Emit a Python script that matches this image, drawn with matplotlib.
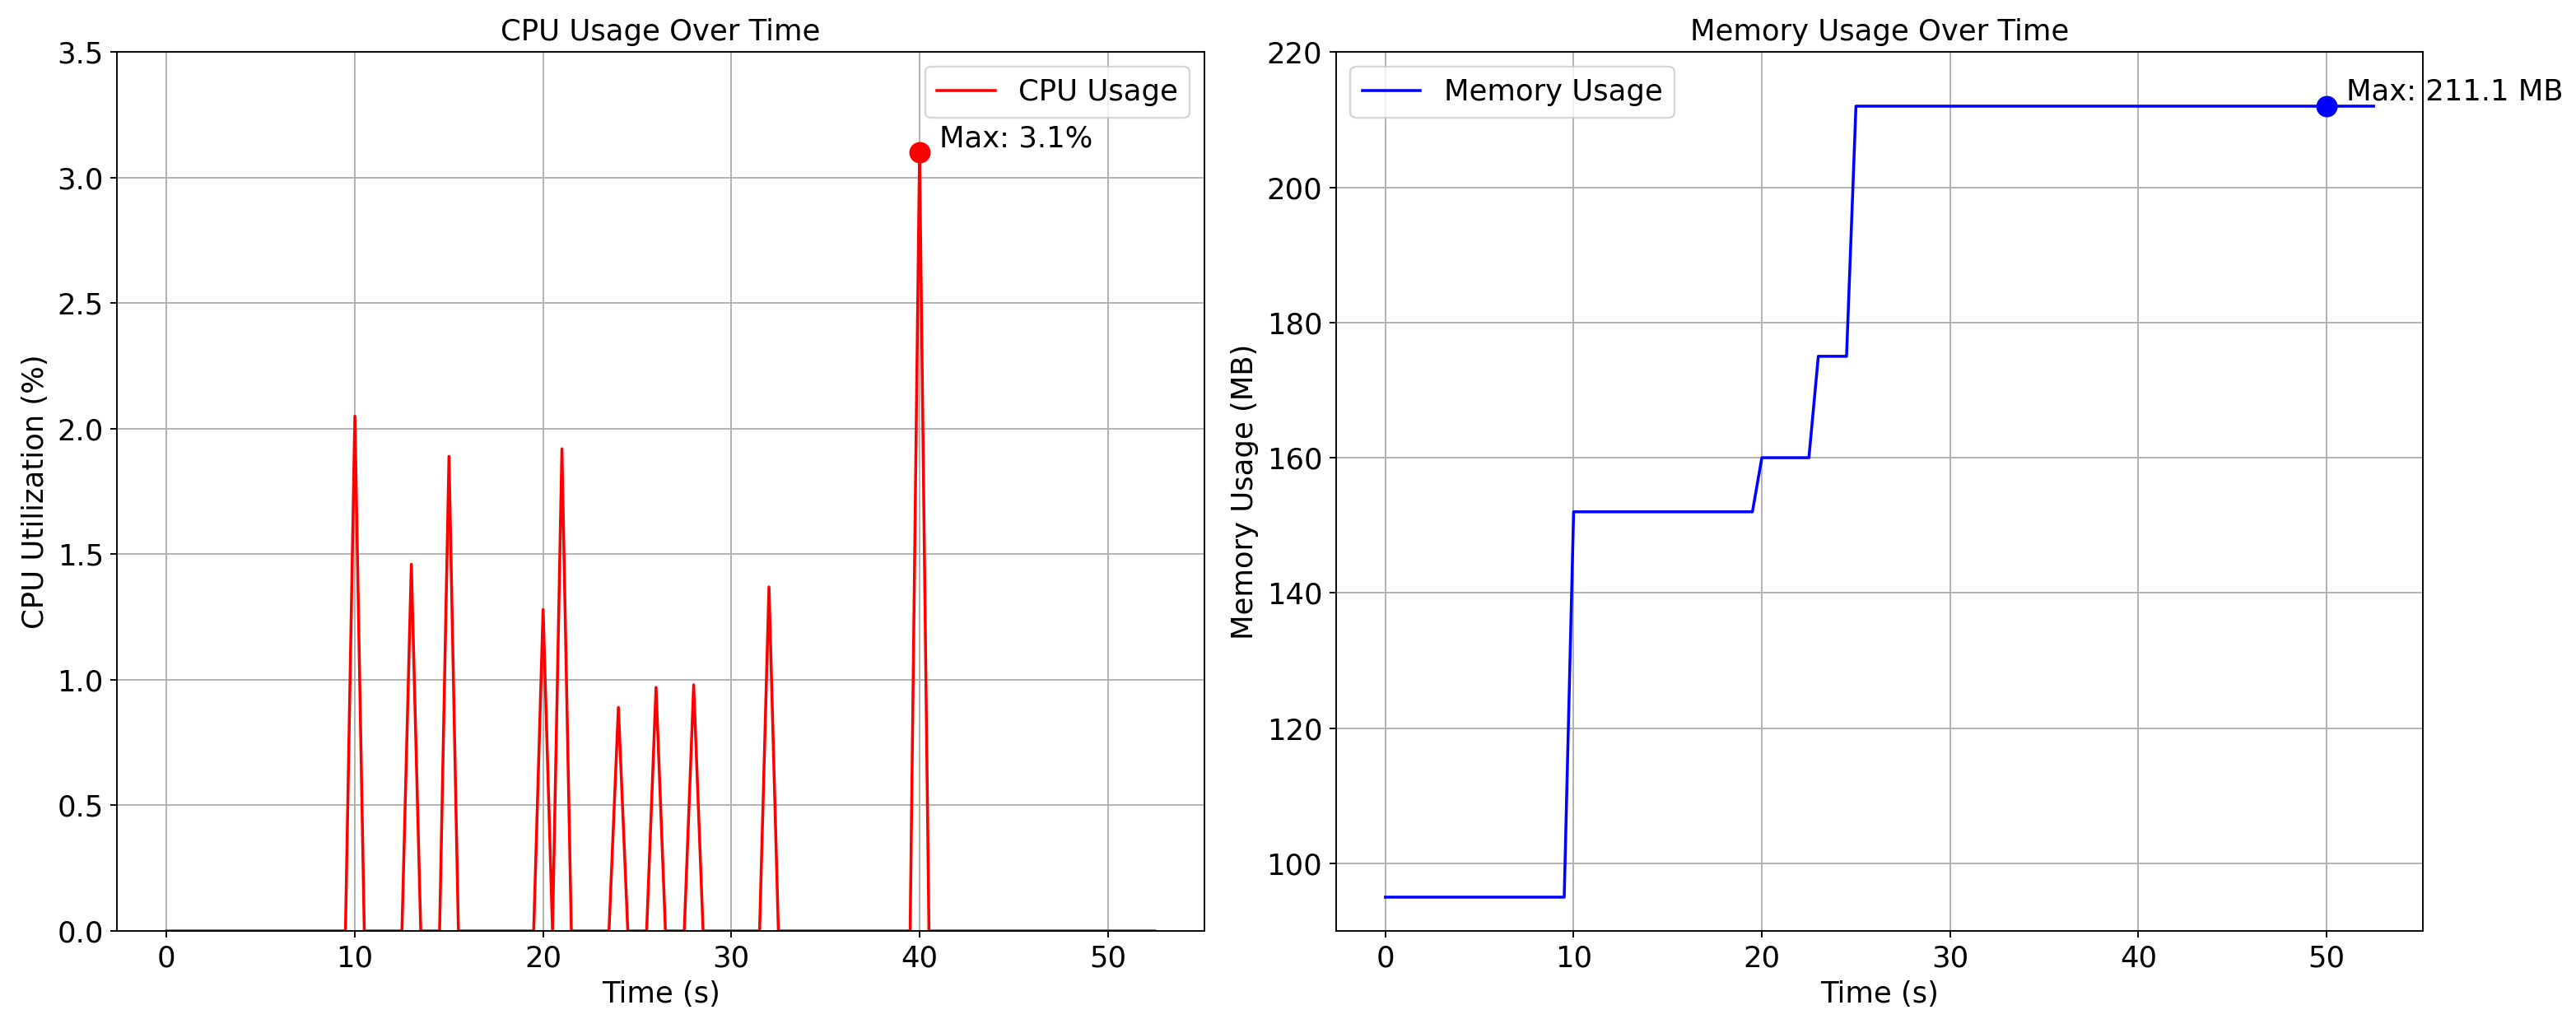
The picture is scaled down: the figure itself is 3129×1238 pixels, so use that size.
import matplotlib
matplotlib.use("Agg")
import matplotlib.pyplot as plt
import numpy as np

# sample times (s), every half second
time_s = np.arange(0, 53, 0.5)

# cpu spikes (time, percent), zero elsewhere
cpu_peak_times = [10, 13, 15, 20, 21, 24, 26, 28, 32, 40]
cpu_peak_values = [2.05, 1.46, 1.89, 1.28, 1.92, 0.89, 0.97, 0.98, 1.37, 3.1]

# memory steps (MB) and how many samples each lasts
mem_levels = [95.0, 152.0, 160.0, 175.0, 212.0]
mem_counts = [20, 20, 6, 4, 56]

cpu_max_time = 40
cpu_max_label = "Max: 3.1%"
mem_max_time = 50
mem_max_label = "Max: 211.1 MB"

cpu = np.zeros(len(time_s))
for t, v in zip(cpu_peak_times, cpu_peak_values):
    cpu[np.isclose(time_s, t)] = v
memory = np.repeat(mem_levels, mem_counts)

plt.rcParams["font.size"] = 15

fig, (ax1, ax2) = plt.subplots(1, 2, figsize=(3130 / 170, 1238 / 170), dpi=170)
fig.subplots_adjust(left=0.0455, right=0.9403, bottom=0.0864, top=0.9489, wspace=0.1212)

# cpu panel
ax1.plot(time_s, cpu, color="red", label="CPU Usage")
cpu_i = np.argmin(np.abs(time_s - cpu_max_time))
ax1.plot(time_s[cpu_i], cpu[cpu_i], "o", color="red", markersize=10)
ax1.annotate(cpu_max_label, (time_s[cpu_i], cpu[cpu_i]), xytext=(10, 3),
             textcoords="offset points")
ax1.set_ylim(0, 3.5)
ax1.set_title("CPU Usage Over Time", fontsize=15)
ax1.set_xlabel("Time (s)")
ax1.set_ylabel("CPU Utilization (%)")
ax1.grid(True)
ax1.legend(loc="upper right")

# memory panel
ax2.plot(time_s, memory, color="blue", label="Memory Usage")
mem_i = np.argmin(np.abs(time_s - mem_max_time))
ax2.plot(time_s[mem_i], memory[mem_i], "o", color="blue", markersize=10)
ax2.annotate(mem_max_label, (time_s[mem_i], memory[mem_i]), xytext=(10, 3),
             textcoords="offset points", annotation_clip=False)
ax2.set_ylim(90, 220)
ax2.set_title("Memory Usage Over Time", fontsize=15)
ax2.set_xlabel("Time (s)")
ax2.set_ylabel("Memory Usage (MB)")
ax2.grid(True)
ax2.legend(loc="upper left")

fig.savefig("out.png", dpi=170)
